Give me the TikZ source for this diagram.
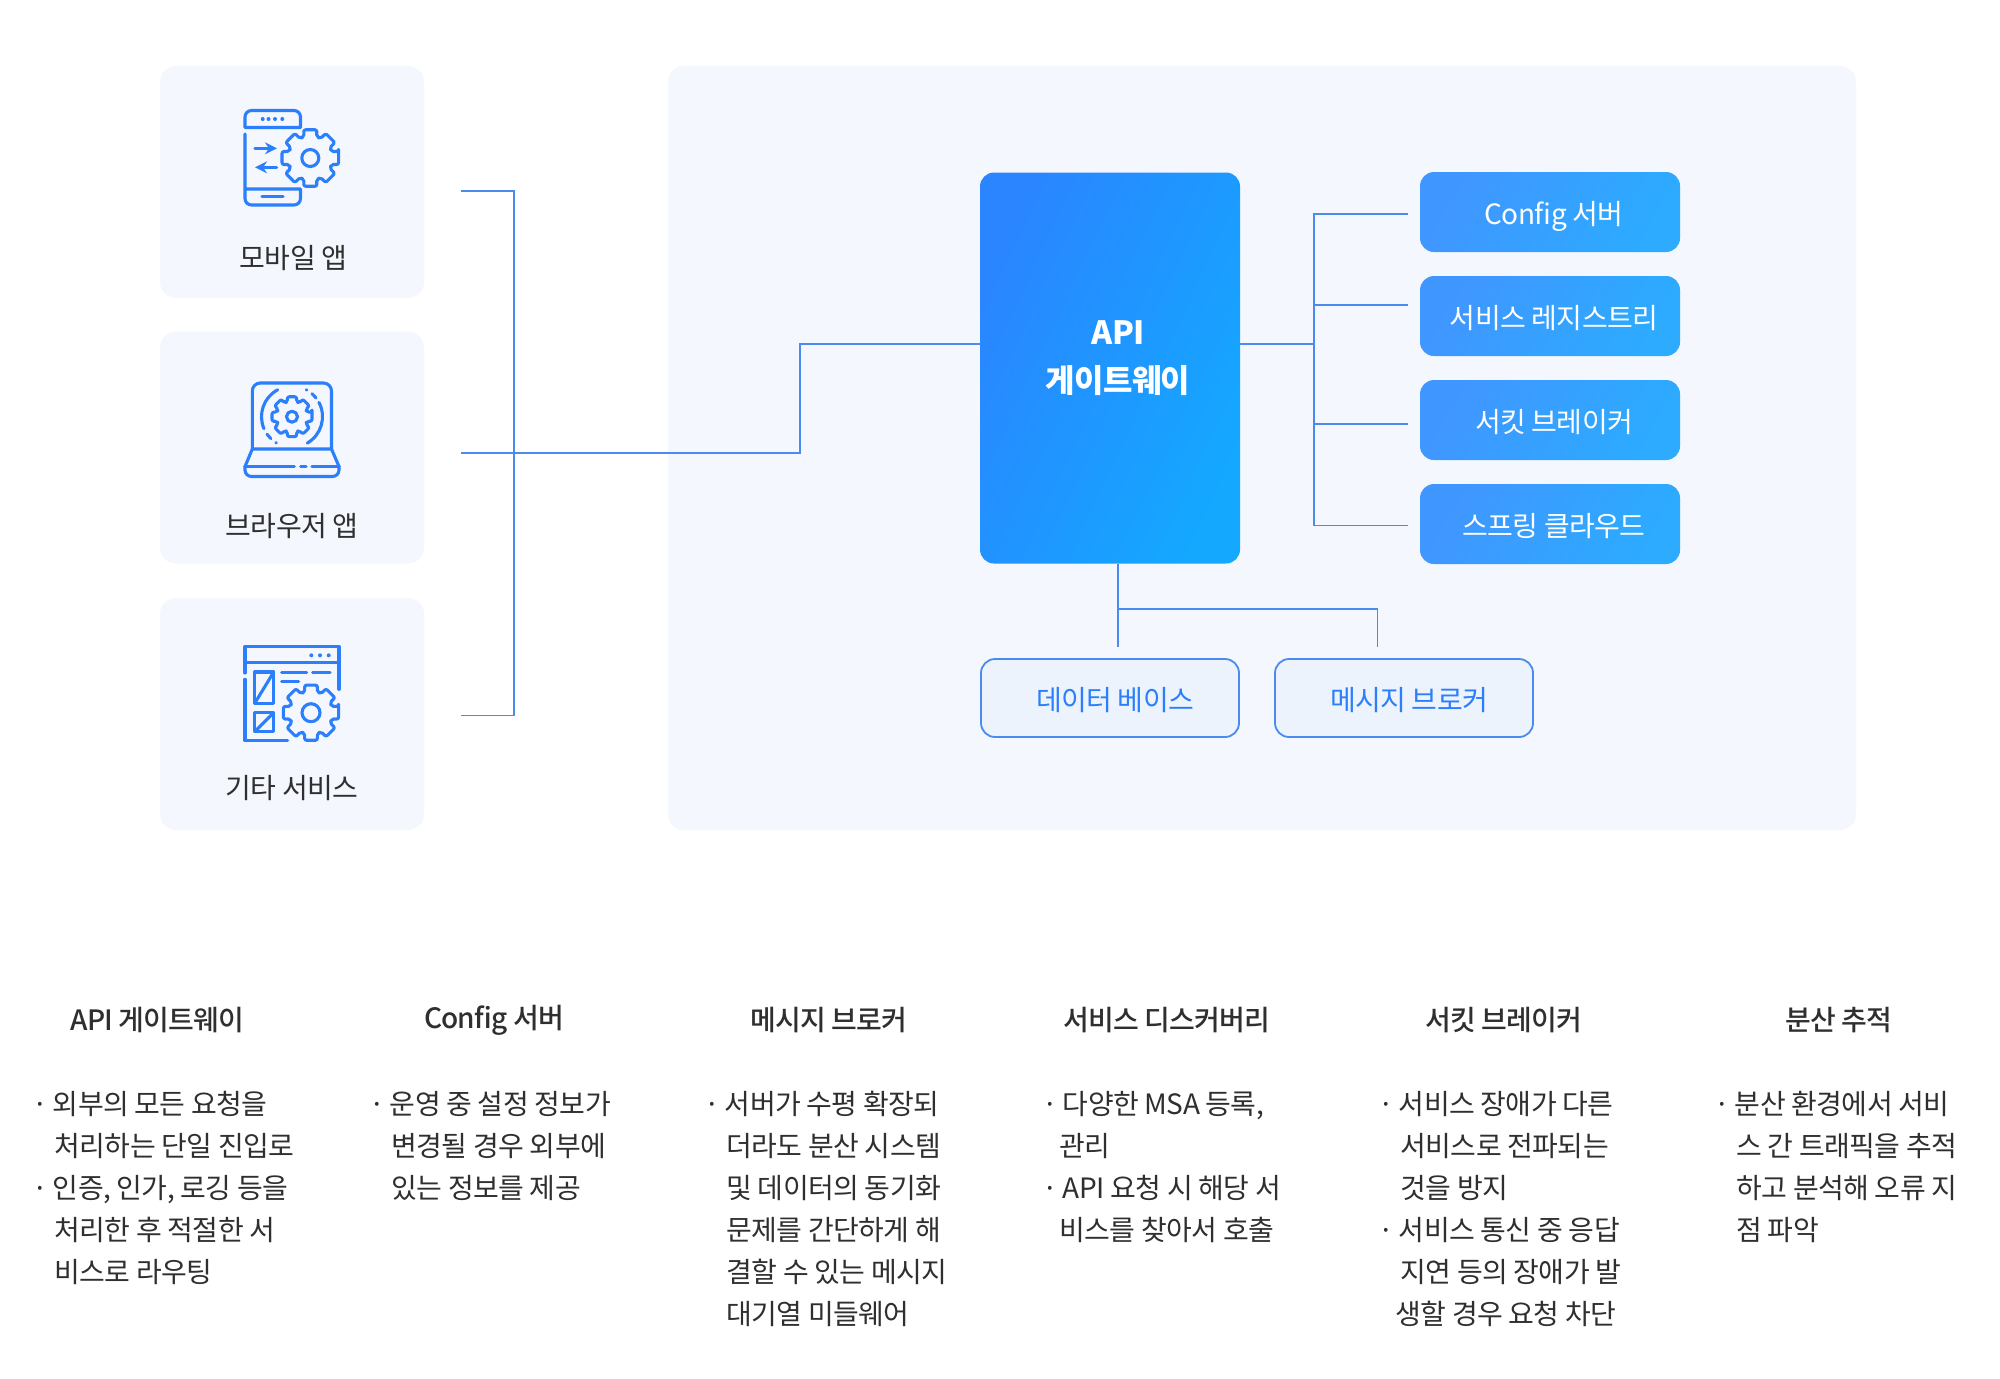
\documentclass[tikz,border=0pt]{standalone}
\usepackage{fontspec}
\usepackage{xcolor}
\setmainfont[LetterSpace=-2]{Noto Sans CJK KR}
\newfontfamily\headfont[LetterSpace=-3]{Noto Sans CJK KR Medium}
\usetikzlibrary{arrows.meta, positioning, calc}
\definecolor{panelbg}{HTML}{F4F7FE}
\definecolor{iconblue}{HTML}{2B7FFB}
\definecolor{linkblue}{HTML}{4C8BEE}
\definecolor{subbg}{HTML}{EDF3FD}
\definecolor{inktext}{HTML}{2F2F2F}
\definecolor{srvA}{HTML}{4096FF}
\definecolor{srvB}{HTML}{2CABFF}
\definecolor{apiA}{HTML}{2A85FF}
\definecolor{apiB}{HTML}{14A8FF}
\tikzstyle{panel} = [rectangle, rounded corners=8pt, fill=panelbg, inner sep=0pt]
\tikzstyle{apibox} = [rectangle, rounded corners=7pt, inner sep=0pt, minimum width=130pt, minimum height=195.5pt,
                      top color=apiA, bottom color=apiB, shading angle=65]
\tikzstyle{srvbox} = [rectangle, rounded corners=7pt, inner sep=0pt, minimum width=130pt, minimum height=40pt,
                      text height=15pt, text depth=2.5pt,
                      text=white, font=\fontsize{14}{16}\selectfont, top color=srvA, bottom color=srvB, shading angle=60]
\tikzstyle{subbox} = [rectangle, rounded corners=7pt, inner sep=0pt, minimum width=129pt, minimum height=39pt,
                      text height=15pt, text depth=2.5pt,
                      draw=linkblue, line width=0.9pt, fill=subbg, text=iconblue, font=\fontsize{14}{16}\selectfont]
\tikzstyle{link} = [draw=linkblue, line width=0.9pt]
\tikzstyle{icon} = [draw=iconblue, line width=1.55pt, line cap=round, line join=round]
\tikzstyle{caption} = [inner sep=0pt, text=inktext, font=\fontsize{14}{16}\selectfont]
\tikzstyle{heading} = [inner sep=0pt, text=inktext, font=\fontsize{14}{16}\headfont]
\tikzstyle{notes} = [inner sep=0pt, anchor=north west, align=left, text=inktext, font=\fontsize{14}{21}\selectfont]
\newcommand{\bul}{\makebox[10.2pt][l]{·}}
\newcommand{\ind}{\hspace*{11pt}}
% gear: centre name, outer radius, hole radius
\newcommand{\gearicon}[3]{
  \draw[icon, rounded corners=1pt] ($(#1)+(-13:#2)$) \foreach \a in {0,45,...,315}{
    -- ($(#1)+(\a-13:#2)$) -- ($(#1)+(\a+13:#2)$) -- ($(#1)+(\a+17:#2*0.76)$) -- ($(#1)+(\a+28:#2*0.76)$)
  } -- cycle;
  \draw[icon] (#1) circle[radius=#3];
}

\begin{document}
\begin{tikzpicture}[x=0.5pt, y=-0.5pt]
\path[use as bounding box, fill=white] (0,0) rectangle (2000,1378);

% panels
\node[panel, minimum width=132pt, minimum height=116pt] (mobile) at (292,182) {};
\node[panel, minimum width=132pt, minimum height=116pt] (browser) at (292,447.5) {};
\node[panel, minimum width=132pt, minimum height=116pt] (other) at (292,714) {};
\node[panel, minimum width=594pt, minimum height=382pt] (gateway) at (1262,448) {};

\node[caption] (mobiletext) at (293.5,258.5) {모바일 앱};
\node[caption] (browsertext) at (292,526) {브라우저 앱};
\node[caption] (othertext) at (292,788) {기타 서비스};

% main boxes
\node[apibox] (api) at (1110,368) {};
\node[inner sep=0pt, align=center, text=white, font=\fontsize{16}{24}\selectfont\bfseries] (apitext) at (1118,358) {API\\게이트웨이};
\node[srvbox] (config) at (1550,212) {\hspace{4pt}Config 서버};
\node[srvbox] (registry) at (1550,316) {\hspace{4pt}서비스 레지스트리};
\node[srvbox] (circuit) at (1550,420) {\hspace{4pt}서킷 브레이커};
\node[srvbox] (spring) at (1550,524) {\hspace{4pt}스프링 클라우드};
\node[subbox] (database) at (1110,698) {\hspace{5pt}데이터 베이스};
\node[subbox] (broker) at (1404,698) {\hspace{5pt}메시지 브로커};

% connectors
\coordinate (busT) at (514,191);
\coordinate (busB) at (514,715.5);
\coordinate (mobileout) at (461,191);
\coordinate (browserout) at (461,453);
\coordinate (otherout) at (461,715.5);
\coordinate (apiin) at (api.west |- 0,344);
\coordinate (apiout) at (api.east |- 0,344);
\coordinate (trunk) at (1314,344);
\coordinate (configin) at (1408,214);
\coordinate (registryin) at (1408,305);
\coordinate (circuitin) at (1408,424);
\coordinate (springin) at (1408,525.5);
\coordinate (apidown) at (1118,564);
\coordinate (databasein) at (1118,647);
\coordinate (brokerin) at (1377.5,647);
\draw[link] (mobileout) -- (busT) -- (busB) -- (otherout);
\draw[link] (browserout) -- (800,453) -- (800,344) -- (apiin);
\draw[link] (apiout) -- (trunk);
\draw[link] (configin) -- (1314,214) -- (1314,525.5) -- (springin);
\draw[link] (registryin) -- (1314,305);
\draw[link] (circuitin) -- (1314,424);
\draw[link] (apidown) -- (databasein);
\draw[link] (1118,609) -- (1377.5,609) -- (brokerin);

% phone icon
\draw[icon] (245,127.5) -- (245,117) arc[start angle=180, end angle=270, radius=6.5] -- (294,110.5) arc[start angle=270, end angle=360, radius=6.5] -- (300.5,127.5) -- cycle;
\foreach \px in {262.7,268.5,275,282.3} \fill[iconblue] (\px,119) circle[radius=2];
\draw[icon] (245,134) -- (245,198.5) arc[start angle=180, end angle=90, radius=6.5] -- (294,205) arc[start angle=90, end angle=0, radius=6.5] -- (300.5,189) -- (245,189);
\draw[icon] (262,196.7) -- (283,196.7);
\draw[icon, -{Stealth[length=6pt,width=6pt]}] (255,148.3) -- (277,148.3);
\draw[icon, -{Stealth[length=6pt,width=6pt]}] (276.7,167.3) -- (255,167.3);
\coordinate (gearA) at (310.3,158);
\gearicon{gearA}{29}{8.5}

% laptop icon
\draw[icon] (252.3,449) -- (252.3,391) arc[start angle=180, end angle=270, radius=8] -- (323.5,383) arc[start angle=270, end angle=360, radius=8] -- (331.5,449) -- cycle;
\draw[icon] (252.3,449) -- (245,466.5) -- (245,470) arc[start angle=180, end angle=90, radius=6.5] -- (332.5,476.5) arc[start angle=90, end angle=0, radius=6.5] -- (339,466.5) -- (331.5,449);
\draw[icon] (245,466.7) -- (294.3,466.7) (300.7,466.7) -- (306,466.7) (312,466.7) -- (339,466.7);
\coordinate (gearB) at (292,416.7);
\gearicon{gearB}{20.5}{5.5}
\draw[icon] ($(gearB)+(-118:30.5)$) arc[start angle=-118, end angle=-203, radius=30.5];
\draw[icon] ($(gearB)+(-215:30.5)$) arc[start angle=-215, end angle=-226, radius=30.5];
\draw[icon] ($(gearB)+(-238:30.5)$) arc[start angle=-238, end angle=-239, radius=30.5];
\draw[icon] ($(gearB)+(60:30.5)$) arc[start angle=60, end angle=-28, radius=30.5];
\draw[icon] ($(gearB)+(-38:30.5)$) arc[start angle=-38, end angle=-49, radius=30.5];
\draw[icon] ($(gearB)+(-61:30.5)$) arc[start angle=-61, end angle=-62, radius=30.5];

% window icon
\draw[icon] (245,673) -- (245,646.7) -- (339,646.7) -- (339,689.3);
\draw[icon] (245,662.7) -- (339,662.7);
\foreach \px in {311.3,320,328.7} \fill[iconblue] (\px,655.3) circle[radius=2];
\draw[icon] (245,679.3) -- (245,740.7) -- (287.7,740.7);
\draw[icon] (254.7,672) rectangle (273.7,703.3);
\draw[icon] (273.7,672) -- (254.7,703.3);
\draw[icon] (254.7,712.7) -- (273.7,712.7) -- (273.7,731.7) -- (254.7,731.7) -- cycle;
\draw[icon] (273.7,712.7) -- (254.7,731.7);
\draw[icon] (281.7,672.3) -- (306.7,672.3) (312.7,672.3) -- (330,672.3) (281.7,681.7) -- (298.7,681.7);
\coordinate (gearC) at (311,712.7);
\gearicon{gearC}{28.3}{9}

% description columns
\node[heading] (headA) at (157.5,1020) {API 게이트웨이};
\node[heading] (headB) at (494,1020) {Config 서버};
\node[heading] (headC) at (829,1020) {메시지 브로커};
\node[heading] (headD) at (1167,1020) {서비스 디스커버리};
\node[heading] (headE) at (1504,1020) {서킷 브레이커};
\node[heading] (headF) at (1839,1020) {분산 추적};

\node[notes] (notesA) at (32,1090.5) {\bul 외부의 모든 요청을\\\ind 처리하는 단일 진입로\\\bul 인증, 인가, 로깅 등을\\\ind 처리한 후 적절한 서\\\ind 비스로 라우팅};
\node[notes] (notesB) at (369,1090.5) {\bul 운영 중 설정 정보가\\\ind 변경될 경우 외부에\\\ind 있는 정보를 제공};
\node[notes] (notesC) at (704,1090.5) {\bul 서버가 수평 확장되\\\ind 더라도 분산 시스템\\\ind 및 데이터의 동기화\\\ind 문제를 간단하게 해\\\ind 결할 수 있는 메시지\\\ind 대기열 미들웨어};
\node[notes] (notesD) at (1042,1090.5) {\bul 다양한 MSA 등록,\\\hspace*{8.5pt}관리\\\bul API 요청 시 해당 서\\\hspace*{8.5pt}비스를 찾아서 호출};
\node[notes] (notesE) at (1378,1090.5) {\bul 서비스 장애가 다른\\\ind 서비스로 전파되는\\\ind 것을 방지\\\bul 서비스 통신 중 응답\\\ind 지연 등의 장애가 발\\\hspace*{8.5pt}생할 경우 요청 차단};
\node[notes] (notesF) at (1714,1090.5) {\bul 분산 환경에서 서비\\\ind 스 간 트래픽을 추적\\\ind 하고 분석해 오류 지\\\ind 점 파악};
\end{tikzpicture}
\end{document}
